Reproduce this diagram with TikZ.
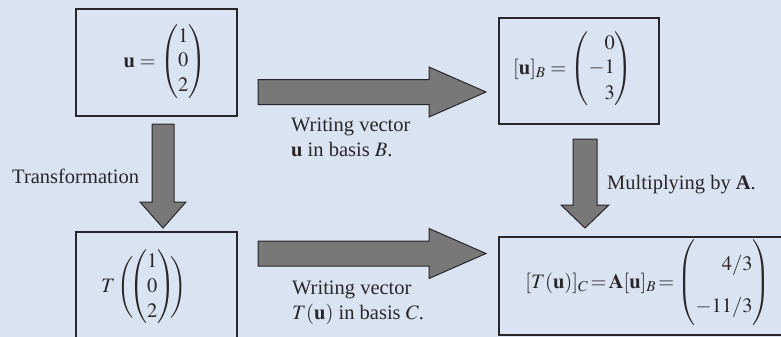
\documentclass[tikz,border=0pt]{standalone}
\usepackage{amsmath}
\usepackage{mathtools}
\usepackage{mathptmx}
\usepackage{fontspec}
\setmainfont{Liberation Serif}
\usetikzlibrary{calc}
\definecolor{panelbg}{RGB}{218,227,241}
\definecolor{arrowgray}{RGB}{120,120,120}
\definecolor{inkline}{RGB}{40,38,40}
\tikzset{
  mathbox/.style={draw=inkline,line width=1.1pt,inner sep=0pt},
  fatarrow/.style={fill=arrowgray,draw=inkline,line width=1pt,line join=miter},
  caption/.style={inner sep=0pt,align=left,text=inkline}
}
% block arrow: start, tip, half shaft, half head, head length
\newcommand{\fatarr}[5]{%
  \path ($(#2)!#5pt!(#1)$) coordinate (hb);
  \draw[fatarrow] ($(#1)!#3pt!90:(#2)$) -- ($(hb)!#3pt!-90:(#1)$)
    -- ($(hb)!#4pt!-90:(#1)$) -- (#2) -- ($(hb)!#4pt!90:(#1)$)
    -- ($(hb)!#3pt!90:(#1)$) -- ($(#1)!#3pt!-90:(#2)$) -- cycle;
}
\begin{document}
\begin{tikzpicture}[x=1pt,y=-1pt,font=\fontsize{20.5}{25}\selectfont,text=inkline]
\useasboundingbox[fill=panelbg] (0,0) rectangle (781,337);
\begin{scope}
\clip (0,0) rectangle (781,337);
% boxes
\node[mathbox,minimum width=161pt,minimum height=107pt] (ubox) at (156.5,62.5) {};
\node[mathbox,minimum width=160pt,minimum height=106pt] (ubbox) at (579,71) {};
\node[mathbox,minimum width=161pt,minimum height=113pt] (tubox) at (156.5,288.5) {};
\node[mathbox,minimum width=296pt,minimum height=98pt] (resbox) at (647,286) {};
% contents
\node (uvec) at (165,62) {$\mathbf{u} = \begin{pmatrix}1\\0\\2\end{pmatrix}$};
\node (ubvec) at (573,69) {$[\mathbf{u}]_B = \begin{pmatrix*}[r]0\\-1\\3\end{pmatrix*}$};
\node (tuvec) at (144,287) {$T\,\Biggl(\!\!\begin{pmatrix}1\\0\\2\end{pmatrix}\!\!\Biggr)$};
\node (resvec) at (648,283) {$[T(\mathbf{u})]_C\mkern2mu{=}\mkern2mu\mathbf{A}[\mathbf{u}]_B\mkern2mu{=}\mkern1mu\renewcommand{\arraystretch}{1.7}\begin{pmatrix*}[r]\;\;4/3\\-11/3\end{pmatrix*}$};
\end{scope}
% arrows
\coordinate (r1s) at (258,92);
\coordinate (r1e) at (486,92);
\coordinate (r2s) at (258,253.5);
\coordinate (r2e) at (486,253.5);
\coordinate (d1s) at (163,124);
\coordinate (d1e) at (163,228);
\coordinate (d2s) at (585,139);
\coordinate (d2e) at (585,228);
\fatarr{r1s}{r1e}{12.5}{25}{57}
\fatarr{r2s}{r2e}{12.5}{25}{57}
\fatarr{d1s}{d1e}{11}{23}{26}
\fatarr{d2s}{d2e}{12}{24}{23}
% captions
\node[caption,anchor=north west] (capb) at (291,118) {Writing vector\\\textbf{u} in basis $B$.};
\node[caption,anchor=north west] (capc) at (292,281) {Writing vector\\$T(\mathbf{u})$ in basis $C$.};
\node[caption,anchor=base west] (captr) at (12,183) {Transformation};
\node[caption,anchor=base west] (capmul) at (607,189) {Multiplying by \textbf{A}.};
\end{tikzpicture}
\end{document}
